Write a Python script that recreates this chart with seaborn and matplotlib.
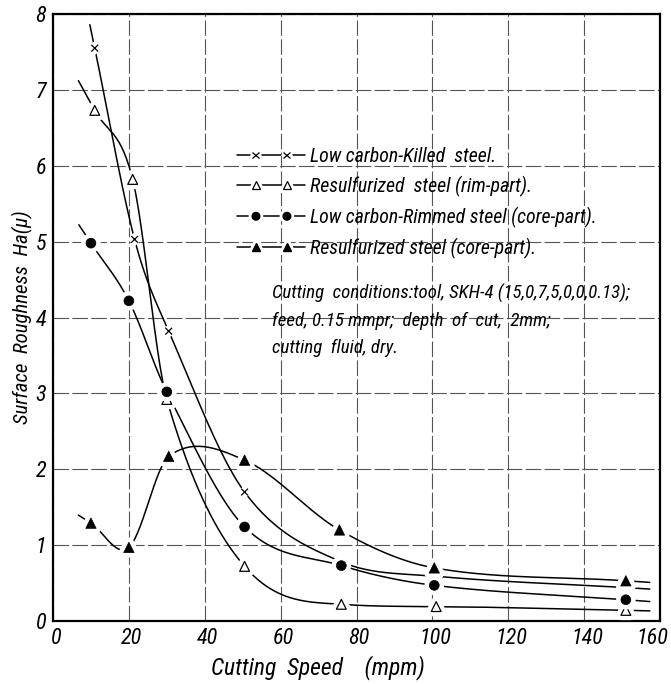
import numpy as np
import pandas as pd
import matplotlib
matplotlib.use("Agg")
import matplotlib.pyplot as plt
import seaborn as sns
from matplotlib.lines import Line2D
from matplotlib.legend_handler import HandlerLine2D
import matplotlib.patheffects as pe
import matplotlib.transforms as mtransforms
from matplotlib import font_manager as fm

# ---------------- data ----------------
speed_killed = [11, 21.5, 30.5, 50.5, 75.5, 101, 151]
ra_killed = [7.55, 5.03, 3.82, 1.70, 0.79, 0.59, 0.44]

speed_rim = [11, 21, 30, 50.5, 76, 101, 151]
ra_rim = [6.73, 5.82, 2.92, 0.72, 0.22, 0.19, 0.14]

speed_rimmed = [10, 20, 30, 50.5, 76, 100.5, 151]
ra_rimmed = [4.98, 4.22, 3.02, 1.24, 0.73, 0.47, 0.28]

speed_core = [10, 20, 30.5, 50.5, 75.5, 100.5, 151]
ra_core = [1.29, 0.97, 2.17, 2.12, 1.20, 0.70, 0.53]

labels = [
    "Low carbon-Killed  steel.",
    "Resulfurized  steel (rim-part).",
    "Low carbon-Rimmed steel (core-part).",
    "Resulfurized steel (core-part).",
]
x_ticks = [0, 20, 40, 60, 80, 100, 120, 140, 160]
y_ticks = [0, 1, 2, 3, 4, 5, 6, 7, 8]
conditions = [
    "Cutting  conditions:tool, SKH-4 (15,0,7,5,0,0,0.13);",
    "feed, 0.15 mmpr;  depth  of  cut,  2mm;",
    "cutting  fluid, dry.",
]
x_title = "Cutting  Speed    (mpm)"
y_title = "Surface  Roughness  Ha(μ)"

# ---------------- font choice (narrow face if one is installed) ----------------
entries = fm.fontManager.ttflist
names = {f.name for f in entries}
FAMILY = ["DejaVu Sans"]
STRETCH = "normal"
for cand in ["Liberation Sans Narrow", "Roboto Condensed", "Open Sans Condensed"]:
    if cand in names:
        FAMILY = [cand, "DejaVu Sans"]
        break
else:
    if any(f.name == "DejaVu Sans" and str(f.stretch) in ("condensed", "semi-condensed")
           and f.style in ("italic", "oblique") for f in entries):
        STRETCH = "condensed"

sns.set_theme(style="white")
plt.rcParams["font.family"] = FAMILY
plt.rcParams["font.style"] = "italic"
plt.rcParams["font.stretch"] = STRETCH
plt.rcParams["text.color"] = "black"
plt.rcParams["axes.labelcolor"] = "black"
plt.rcParams["xtick.color"] = "black"
plt.rcParams["ytick.color"] = "black"

DPI = 100
fig = plt.figure(figsize=(6.71, 6.84), dpi=DPI)
fig.patch.set_facecolor("white")
ax = fig.add_axes([0.079, 0.0921, 0.9046, 0.8874])

SX, SY = 3.8, 75.9  # px per data unit, only used to size guide-curve end extensions


def guide_curve(xs, ys, n=400, ext0=20, ext1=24):
    """Smooth hand-drawn-style guide through the points (cardinal Hermite, limited)."""
    x = np.asarray(xs, float)
    y = np.asarray(ys, float)
    h = np.diff(x)
    d = np.diff(y) / h
    m = np.empty_like(y)
    m[0], m[-1] = d[0], d[-1]
    m[1:-1] = (y[2:] - y[:-2]) / (x[2:] - x[:-2])
    for k in range(len(h)):
        if d[k] == 0:
            continue
        a, b = m[k] / d[k], m[k + 1] / d[k]
        if a >= 0 and b >= 0 and a * a + b * b > 9:
            tau = 3 / np.sqrt(a * a + b * b)
            m[k], m[k + 1] = tau * a * d[k], tau * b * d[k]
    xx = np.linspace(x[0], x[-1], n)
    idx = np.clip(np.searchsorted(x, xx) - 1, 0, len(h) - 1)
    t = (xx - x[idx]) / h[idx]
    h00 = 2 * t**3 - 3 * t**2 + 1
    h10 = t**3 - 2 * t**2 + t
    h01 = -2 * t**3 + 3 * t**2
    h11 = t**3 - t**2
    yy = h00 * y[idx] + h10 * h[idx] * m[idx] + h01 * y[idx + 1] + h11 * h[idx] * m[idx + 1]
    v0 = np.array([-SX, -m[0] * SY])
    v0 = v0 / np.linalg.norm(v0) * ext0
    v1 = np.array([SX, m[-1] * SY])
    v1 = v1 / np.linalg.norm(v1) * ext1
    xx = np.concatenate([[x[0] + v0[0] / SX], xx, [x[-1] + v1[0] / SX]])
    yy = np.concatenate([[y[0] + v0[1] / SY], yy, [y[-1] + v1[1] / SY]])
    return xx, yy


series = [
    (speed_killed, ra_killed, dict(marker="x", s=24, color="black", linewidths=0.9), 24),
    (speed_rim, ra_rim, dict(marker="^", s=50, facecolor="white", edgecolor="black", linewidths=0.9), 34),
    (speed_rimmed, ra_rimmed, dict(marker="o", s=50, color="black", edgecolor="black", linewidths=0.5), 22),
    (speed_core, ra_core, dict(marker="^", s=56, color="black", edgecolor="black", linewidths=0.5), 15),
]

halo = [pe.withStroke(linewidth=7, foreground="white")]

for xs, ys, mk, ext0 in series:
    cx, cy = guide_curve(xs, ys, ext0=ext0)
    curve = pd.DataFrame({"x": cx, "y": cy})
    sns.lineplot(data=curve, x="x", y="y", sort=False, estimator=None,
                 color="black", linewidth=1.1, ax=ax)

for xs, ys, mk, ext0 in series:
    pts = pd.DataFrame({"x": xs, "y": ys})
    sns.scatterplot(data=pts, x="x", y="y", ax=ax, zorder=5, **mk)
    ax.collections[-1].set_path_effects(halo)

ax.set_xlim(0, 160)
ax.set_ylim(0, 8)
ax.set_xticks(x_ticks)
ax.set_yticks(y_ticks)
ax.set_xticklabels([str(v) for v in x_ticks])
ax.set_yticklabels([str(v) for v in y_ticks])
ax.tick_params(axis="both", length=0, pad=5, labelsize=16)

# italic labels sit a touch right of the grid lines; keep the last one inside the figure
xlabs = ax.get_xticklabels()
for lab in xlabs[:-1]:
    lab.set_transform(lab.get_transform() + mtransforms.ScaledTranslation(2 / 72, 0, fig.dpi_scale_trans))
xlabs[-1].set_horizontalalignment("right")
xlabs[-1].set_transform(xlabs[-1].get_transform() + mtransforms.ScaledTranslation(8.5 / DPI, 0, fig.dpi_scale_trans))

ax.grid(True, color="#555555", linewidth=0.8, linestyle=(0, (14, 3)))
ax.set_axisbelow(True)
for sp in ax.spines.values():
    sp.set_color("black")
    sp.set_linewidth(1.6)

ax.set_xlabel(x_title)
ax.xaxis.set_label_coords(0.437, -0.056)
ax.set_ylabel(y_title)
ax.yaxis.set_label_coords(-0.033, 0.5)

gap = [pe.withStroke(linewidth=5, foreground="white")]


class TwoMarkHandler(HandlerLine2D):
    def create_artists(self, legend, orig_handle, xdescent, ydescent, width, height, fontsize, trans):
        x0 = -xdescent
        xd = np.array([x0, x0 + width])
        yd = np.full_like(xd, (height - ydescent) / 2)
        line = Line2D(xd, yd)
        self.update_prop(line, orig_handle, legend)
        line.set_marker("None")
        line.set_transform(trans)
        xm = np.array([x0 + 0.28 * width, x0 + 0.735 * width])
        mk = Line2D(xm, yd)
        self.update_prop(mk, orig_handle, legend)
        mk.set_linestyle("None")
        mk.set_path_effects(gap)
        mk.set_transform(trans)
        return [line, mk]


handles = [
    Line2D([], [], color="black", lw=1.1, marker="x", markersize=5, markeredgewidth=0.9),
    Line2D([], [], color="black", lw=1.1, marker="^", markersize=6, markerfacecolor="white",
           markeredgecolor="black", markeredgewidth=0.9),
    Line2D([], [], color="black", lw=1.1, marker="o", markersize=5.5),
    Line2D([], [], color="black", lw=1.1, marker="^", markersize=6),
]

cond_texts = [ax.text(0.361, 0.539 - i * 0.0445, line, transform=ax.transAxes,
                      va="center", ha="left") for i, line in enumerate(conditions)]

# ---- fit font sizes to the widths measured on the reference (pixels) ----
renderer = fig.canvas.get_renderer()


def fit_size(text, target_px, max_pt):
    probe = fig.text(0, 0, text, fontsize=10)
    bb = probe.get_window_extent(renderer)
    probe.remove()
    return min(max_pt, 10 * target_px / bb.width)


fs_cond = fit_size(conditions[0], 356, 14)
fs_leg = fit_size(labels[2], 287, 14.5)
fs_xl = fit_size(x_title, 215, 17)
fs_yl = fit_size(y_title, 214, 16)

for t in cond_texts:
    t.set_fontsize(fs_cond)
ax.xaxis.label.set_fontsize(fs_xl)
ax.yaxis.label.set_fontsize(fs_yl)

leg_px = fs_leg * DPI / 72
leg = ax.legend(handles, labels, loc="upper left", bbox_to_anchor=(0.303, 0.781),
                frameon=False, handlelength=68 / leg_px, handletextpad=5 / leg_px,
                labelspacing=0.5, borderpad=0, borderaxespad=0,
                handler_map={Line2D: TwoMarkHandler()},
                prop=fm.FontProperties(family=FAMILY, style="italic", stretch=STRETCH, size=fs_leg))

fig.savefig("out.png", dpi=DPI)
